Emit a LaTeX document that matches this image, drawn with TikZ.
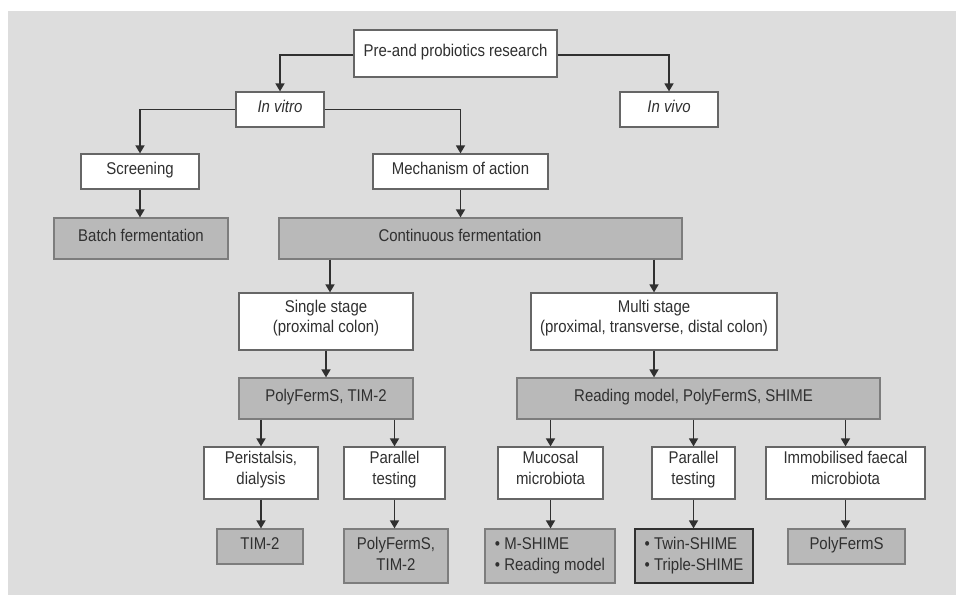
\documentclass[tikz,border=0pt]{standalone}
\usepackage{fontspec}
\setmainfont[FakeStretch=0.88]{Liberation Sans}
\usepackage{xcolor}
\usetikzlibrary{arrows.meta}

\definecolor{bggray}{HTML}{DDDDDD}
\definecolor{boxgray}{HTML}{B9B9B9}
\definecolor{edgegray}{HTML}{666666}
\definecolor{inkgray}{HTML}{303030}

\begin{document}
\begin{tikzpicture}[x=1pt,y=-1pt,
            font=\fontsize{17}{20.5}\selectfont,
            every node/.style = {text=inkgray},
            wbox/.style = {draw=edgegray, line width=1.2pt, fill=white,
                        inner xsep=2pt, inner ysep=0pt},
            gbox/.style = {draw=edgegray!85, line width=1.2pt, fill=boxgray,
                        inner xsep=2pt, inner ysep=0pt},
            one/.style = {text height=12pt, text depth=6pt},
            two/.style = {align=center, text height=34pt, text depth=12pt},
            twog/.style = {text height=36pt, text depth=8pt},
            arr/.style = {draw=inkgray, line width=1.5pt,
                        -{Triangle[width=9pt,length=8pt]}}]
            \useasboundingbox (0,0) rectangle (956,595);
            \fill[bggray] (8,11) rectangle (956,595);

            % Top levels
            \node[wbox,one,minimum width=203pt,minimum height=47pt] (root) at (455.5,53.5) {Pre-and probiotics research};
            \node[wbox,one,minimum width=88pt,minimum height=35pt] (invitro) at (280,109.5) {\itshape In vitro};
            \node[wbox,one,minimum width=98pt,minimum height=35pt] (invivo) at (669,109.5) {\itshape In vivo};
            \node[wbox,one,minimum width=118pt,minimum height=35pt] (screen) at (140,171.5) {Screening};
            \node[wbox,one,minimum width=175pt,minimum height=35pt] (mech) at (460.5,171.5) {Mechanism of action};
            \node[gbox,one,minimum width=174pt,minimum height=41pt] (batch) at (141,238.5) {Batch fermentation};
            \node[gbox,one,minimum width=403pt,minimum height=41pt] (contin) at (480.5,238.5) {\hspace*{-41pt}Continuous fermentation};

            % Single and multi stage
            \node[wbox,two,minimum width=174pt,minimum height=57pt] (single) at (326,321.5) {Single stage\\(proximal colon)};
            \node[wbox,two,minimum width=246pt,minimum height=57pt] (multi) at (654,321.5) {Multi stage\\(proximal, transverse, distal colon)};
            \node[gbox,one,minimum width=174pt,minimum height=41pt] (poly1) at (326,398.5) {PolyFermS, TIM-2};
            \node[gbox,one,minimum width=363pt,minimum height=41pt] (reading) at (698.5,398.5) {\hspace*{-10pt}Reading model, PolyFermS, SHIME};

            % Models
            \node[wbox,two,minimum width=114pt,minimum height=52pt] (perist) at (261,473) {Peristalsis,\\dialysis};
            \node[wbox,two,minimum width=101pt,minimum height=52pt] (par1) at (394.5,473) {Parallel\\testing};
            \node[wbox,two,minimum width=105pt,minimum height=52pt] (mucosal) at (550.5,473) {Mucosal\\microbiota};
            \node[wbox,two,minimum width=83pt,minimum height=52pt] (par2) at (693.5,473) {Parallel\\testing};
            \node[wbox,two,minimum width=159pt,minimum height=52pt] (immob) at (845.5,473) {Immobilised faecal\\microbiota};

            % Systems
            \node[gbox,one,minimum width=86pt,minimum height=35pt] (tim) at (260,546.5) {TIM-2};
            \node[gbox,twog,align=center,minimum width=104pt,minimum height=54pt] (poly2) at (396,556) {PolyFermS,\\TIM-2};
            \node[gbox,twog,align=left,minimum width=130pt,minimum height=54pt] (mshime) at (550,556) {• M-SHIME\\• Reading model};
            \node[gbox,twog,align=left,draw=inkgray,minimum width=118pt,minimum height=54pt] (twin) at (694,556) {• Twin-SHIME\\• Triple-SHIME};
            \node[gbox,one,minimum width=117pt,minimum height=35pt] (poly3) at (846.5,546.5) {PolyFermS};

            % Connectors
            \draw[arr] ([yshift=-1.5pt]root.west) -| (invitro.north);
            \draw[arr] ([yshift=-1.5pt]root.east) -| (invivo.north);
            \draw[arr] (invitro.west) -| (screen.north);
            \draw[arr] (invitro.east) -| (mech.north);
            \draw[arr] (screen.south) -- (screen.south |- batch.north);
            \draw[arr] (mech.south) -- (mech.south |- contin.north);
            \draw[arr] ([xshift=4pt]contin.south -| single.north) -- ([xshift=4pt]single.north);
            \draw[arr] (contin.south -| multi.north) -- (multi.north);
            \draw[arr] (single.south) -- (poly1.north);
            \draw[arr] (multi.south) -- (multi.south |- reading.north);
            \draw[arr] (poly1.south -| perist.north) -- (perist.north);
            \draw[arr] (poly1.south -| par1.north) -- (par1.north);
            \draw[arr] (reading.south -| mucosal.north) -- (mucosal.north);
            \draw[arr] (reading.south -| par2.north) -- (par2.north);
            \draw[arr] (reading.south -| immob.north) -- (immob.north);
            \draw[arr] (perist.south) -- (perist.south |- tim.north);
            \draw[arr] (par1.south) -- (par1.south |- poly2.north);
            \draw[arr] (mucosal.south) -- (mucosal.south |- mshime.north);
            \draw[arr] (par2.south) -- (par2.south |- twin.north);
            \draw[arr] (immob.south) -- (immob.south |- poly3.north);
        \end{tikzpicture}
\end{document}
